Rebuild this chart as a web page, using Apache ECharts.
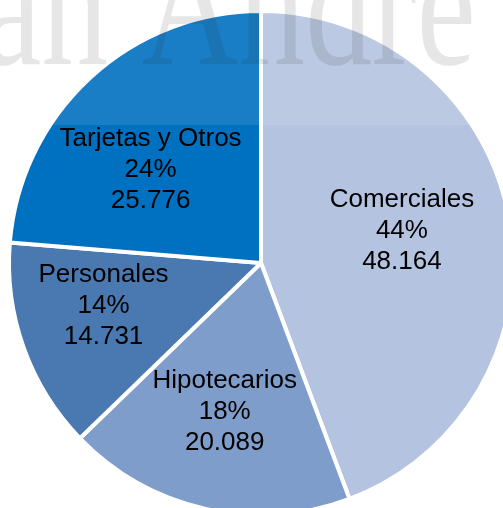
<!DOCTYPE html>
<html>
<head>
<meta charset="utf-8">
<script src="https://cdn.jsdelivr.net/npm/echarts@6/dist/echarts.min.js"></script>
<style>
  html, body { margin: 0; padding: 0; background: #ffffff; }
  #chart { width: 503px; height: 508px; }
</style>
</head>
<body>
<div id="chart"></div>
<script>
const categories = ['Comerciales', 'Hipotecarios', 'Personales', 'Tarjetas y Otros'];
const values = [48164, 20089, 14731, 25776];
const sliceColors = ['#b4c3df', '#7f9dca', '#4a78b0', '#0070c0'];
const labelNudges = [[14, -9], [-8, 23], [-36, -1], [-23, 2]];
const watermarkText = 'an Andre';

function fmtThousands(v) {
  return String(v).replace(/\B(?=(\d{3})+(?!\d))/g, '.');
}

const chart = echarts.init(document.getElementById('chart'), null, { renderer: 'canvas' });
chart.setOption({
  animation: false,
  backgroundColor: '#ffffff',
  series: [{
    type: 'pie',
    center: [261, 263],
    radius: [0, 252],
    startAngle: 90,
    clockwise: true,
    percentPrecision: 0,
    avoidLabelOverlap: false,
    itemStyle: { borderColor: '#ffffff', borderWidth: 4 },
    label: {
      show: true,
      position: 'inside',
      color: '#000000',
      fontFamily: 'Liberation Sans, Arial, sans-serif',
      fontSize: 26,
      lineHeight: 31,
      align: 'center',
      formatter: function (p) {
        return p.name + '\n' + p.percent + '%\n' + fmtThousands(p.value);
      }
    },
    labelLine: { show: false },
    labelLayout: function (params) {
      const n = labelNudges[params.dataIndex];
      return { dx: n[0], dy: n[1] };
    },
    emphasis: { disabled: true },
    data: categories.map(function (c, i) {
      return { name: c, value: values[i], itemStyle: { color: sliceColors[i] } };
    })
  }],
  graphic: [
    {
      type: 'rect',
      z: 100,
      silent: true,
      shape: { x: 0, y: 0, width: 503, height: 125 },
      style: { fill: 'rgba(255,255,255,0.1)' }
    },
    {
      type: 'text',
      z: 101,
      silent: true,
      x: -18,
      y: 18,
      scaleX: 0.76,
      style: {
        text: watermarkText,
        font: '176px "Liberation Serif", "Times New Roman", serif',
        fill: 'rgba(30,30,30,0.11)',
        verticalAlign: 'middle',
        align: 'left'
      }
    }
  ]
});
</script>
</body>
</html>
